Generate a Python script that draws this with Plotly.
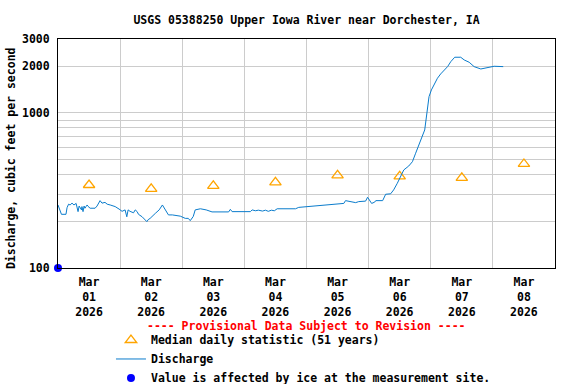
import plotly.graph_objects as go

TITLE = "USGS 05388250 Upper Iowa River near Dorchester, IA"
Y_TITLE = "Discharge, cubic feet per second"
NOTE = "---- Provisional Data Subject to Revision ----"

# Discharge (cubic feet per second), provisional 15-minute record
discharge_time = [
    "2026-03-01 00:00", "2026-03-01 00:35", "2026-03-01 01:20", "2026-03-01 03:05", "2026-03-01 03:30",
    "2026-03-01 04:05", "2026-03-01 04:40", "2026-03-01 05:25", "2026-03-01 06:10", "2026-03-01 07:00",
    "2026-03-01 07:20", "2026-03-01 07:45", "2026-03-01 08:10", "2026-03-01 08:30", "2026-03-01 09:05",
    "2026-03-01 09:15", "2026-03-01 09:40", "2026-03-01 10:05", "2026-03-01 10:25", "2026-03-01 10:50",
    "2026-03-01 11:15", "2026-03-01 11:35", "2026-03-01 12:25", "2026-03-01 14:20", "2026-03-01 15:05",
    "2026-03-01 16:15", "2026-03-01 17:00", "2026-03-01 18:10", "2026-03-01 19:00", "2026-03-01 20:10",
    "2026-03-01 22:05", "2026-03-01 23:35", "2026-03-02 00:45", "2026-03-02 01:55", "2026-03-02 02:35",
    "2026-03-02 03:05", "2026-03-02 03:50", "2026-03-02 05:10", "2026-03-02 05:50", "2026-03-02 06:35",
    "2026-03-02 07:05", "2026-03-02 08:30", "2026-03-02 10:20", "2026-03-02 10:50", "2026-03-02 11:35",
    "2026-03-02 13:35", "2026-03-02 15:05", "2026-03-02 16:20", "2026-03-02 17:25", "2026-03-02 18:40",
    "2026-03-02 20:10", "2026-03-02 23:15", "2026-03-03 01:10", "2026-03-03 02:20", "2026-03-03 03:05",
    "2026-03-03 04:15", "2026-03-03 05:00", "2026-03-03 07:00", "2026-03-03 09:15", "2026-03-03 11:30",
    "2026-03-03 17:55", "2026-03-03 18:35", "2026-03-03 19:15", "2026-03-04 02:20", "2026-03-04 03:00",
    "2026-03-04 04:15", "2026-03-04 05:25", "2026-03-04 07:00", "2026-03-04 08:10", "2026-03-04 09:15",
    "2026-03-04 10:25", "2026-03-04 11:35", "2026-03-04 12:40", "2026-03-04 19:45", "2026-03-04 21:00",
    "2026-03-05 02:15", "2026-03-05 14:25", "2026-03-05 15:05", "2026-03-05 17:00", "2026-03-05 19:00",
    "2026-03-05 20:10", "2026-03-05 22:50", "2026-03-05 23:35", "2026-03-06 01:10", "2026-03-06 02:20",
    "2026-03-06 02:45", "2026-03-06 05:25", "2026-03-06 06:35", "2026-03-06 08:30", "2026-03-06 09:40",
    "2026-03-06 11:05", "2026-03-06 12:25", "2026-03-06 13:35", "2026-03-06 15:30", "2026-03-06 16:55",
    "2026-03-06 18:10", "2026-03-06 19:30", "2026-03-06 20:45", "2026-03-06 21:40", "2026-03-06 22:05",
    "2026-03-06 22:45", "2026-03-06 23:20", "2026-03-07 00:15", "2026-03-07 01:15", "2026-03-07 02:35",
    "2026-03-07 03:50", "2026-03-07 06:30", "2026-03-07 07:45", "2026-03-07 09:15", "2026-03-07 11:35",
    "2026-03-07 12:55", "2026-03-07 14:50", "2026-03-07 16:45", "2026-03-07 19:20", "2026-03-07 20:40",
    "2026-03-07 22:35", "2026-03-08 00:30", "2026-03-08 04:00",
]
discharge_cfs = [
    255, 240, 222, 222, 245,
    258, 255, 262, 255, 261,
    245, 231, 251, 245, 237,
    249, 231, 251, 243, 249,
    255, 250, 243, 243, 251,
    272, 262, 265, 258, 255,
    249, 240, 232, 237, 214,
    237, 232, 227, 237, 231,
    222, 214, 199, 205, 209,
    225, 237, 255, 240, 220,
    220, 216, 209, 209, 202,
    215, 237, 241, 237, 230,
    230, 239, 231, 231, 237,
    234, 236, 233, 236, 232,
    236, 234, 241, 241, 246,
    251, 261, 272, 268, 264,
    268, 270, 286, 261, 266,
    272, 272, 299, 301, 319,
    352, 388, 429, 455, 485,
    550, 637, 710, 777, 901,
    1098, 1274, 1408, 1516, 1675,
    1785, 1990, 2143, 2288, 2288,
    2198, 2124, 1990, 1922, 1943,
    1972, 2001, 1990,
]

# Median daily statistic (51 years)
median_days = ["2026-03-01 12:00", "2026-03-02 12:00", "2026-03-03 12:00", "2026-03-04 12:00",
               "2026-03-05 12:00", "2026-03-06 12:00", "2026-03-07 12:00", "2026-03-08 12:00"]
median_cfs = [343, 324, 339, 357, 396, 390, 381, 469]

# Ice-affected value
ice_time = ["2026-03-01 00:00"]
ice_cfs = [100]

y_tickvals = [100, 200, 300, 400, 500, 600, 700, 800, 900, 1000, 2000, 3000]
y_ticktext = ["100", "", "", "", "", "", "", "", "", "1000", "2000", "3000"]

FONT = "DejaVu Sans Mono"
fnt = dict(family=FONT, size=11.5, color="black", weight="bold")

fig = go.Figure()
fig.add_trace(go.Scatter(
    x=median_days, y=median_cfs, mode="markers", name="Median daily statistic (51 years)",
    marker=dict(symbol="triangle-up-open", size=10, color="#ffa500", line=dict(width=1.3, color="#ffa500")),
))
fig.add_trace(go.Scatter(
    x=discharge_time, y=discharge_cfs, mode="lines", name="Discharge",
    line=dict(color="#0a7ccc", width=1),
))
fig.add_trace(go.Scatter(
    x=ice_time, y=ice_cfs, mode="markers", name="Value is affected by ice at the measurement site.",
    marker=dict(symbol="circle", size=8, color="#0000ff"), cliponaxis=False,
))

fig.update_layout(
    width=576, height=384,
    margin=dict(l=58, r=21, t=39, b=116, autoexpand=False),
    paper_bgcolor="white", plot_bgcolor="white",
    font=fnt,
    title=dict(text=TITLE, x=0.5, xref="paper", xanchor="center", y=1 - 20 / 384, yanchor="middle",
               yref="container", font=fnt),
    showlegend=True,
    legend=dict(x=0.1066, xanchor="left", y=-0.251, yanchor="top", font=fnt,
                bgcolor="rgba(0,0,0,0)", borderwidth=0, traceorder="normal"),
    annotations=[
        dict(text=NOTE, xref="paper", yref="paper",
             x=0.5, y=-0.254, xanchor="center", yanchor="middle", showarrow=False,
             font=dict(family=FONT, size=11.5, color="#ff0000", weight="bold")),
        dict(text=Y_TITLE, xref="paper", yref="paper", x=0, y=0.48, xshift=-47,
             xanchor="center", yanchor="middle", textangle=-90, showarrow=False, font=fnt),
    ],
)
fig.update_xaxes(
    type="date", range=["2026-03-01", "2026-03-09"],
    tickmode="linear", tick0="2026-03-01", dtick=86400000, ticklabelmode="period",
    tickformat="%b<br>%d<br>%Y", ticks="", ticklabelstandoff=3,
    showgrid=True, gridcolor="#cccccc", gridwidth=1,
    showline=True, linecolor="black", linewidth=1, mirror=True,
    zeroline=False, tickfont=fnt, automargin=False,
)
fig.update_yaxes(
    type="log", range=[2, 3.4771],
    tickmode="array", tickvals=y_tickvals, ticktext=y_ticktext, ticks="", ticklabelstandoff=5,
    showgrid=True, gridcolor="#cccccc", gridwidth=1,
    showline=True, linecolor="black", linewidth=1, mirror=True,
    zeroline=False, tickfont=fnt, automargin=False,
)

fig.write_html("out.html", config={"displayModeBar": False},
               post_script="document.body.style.margin='0px';")
